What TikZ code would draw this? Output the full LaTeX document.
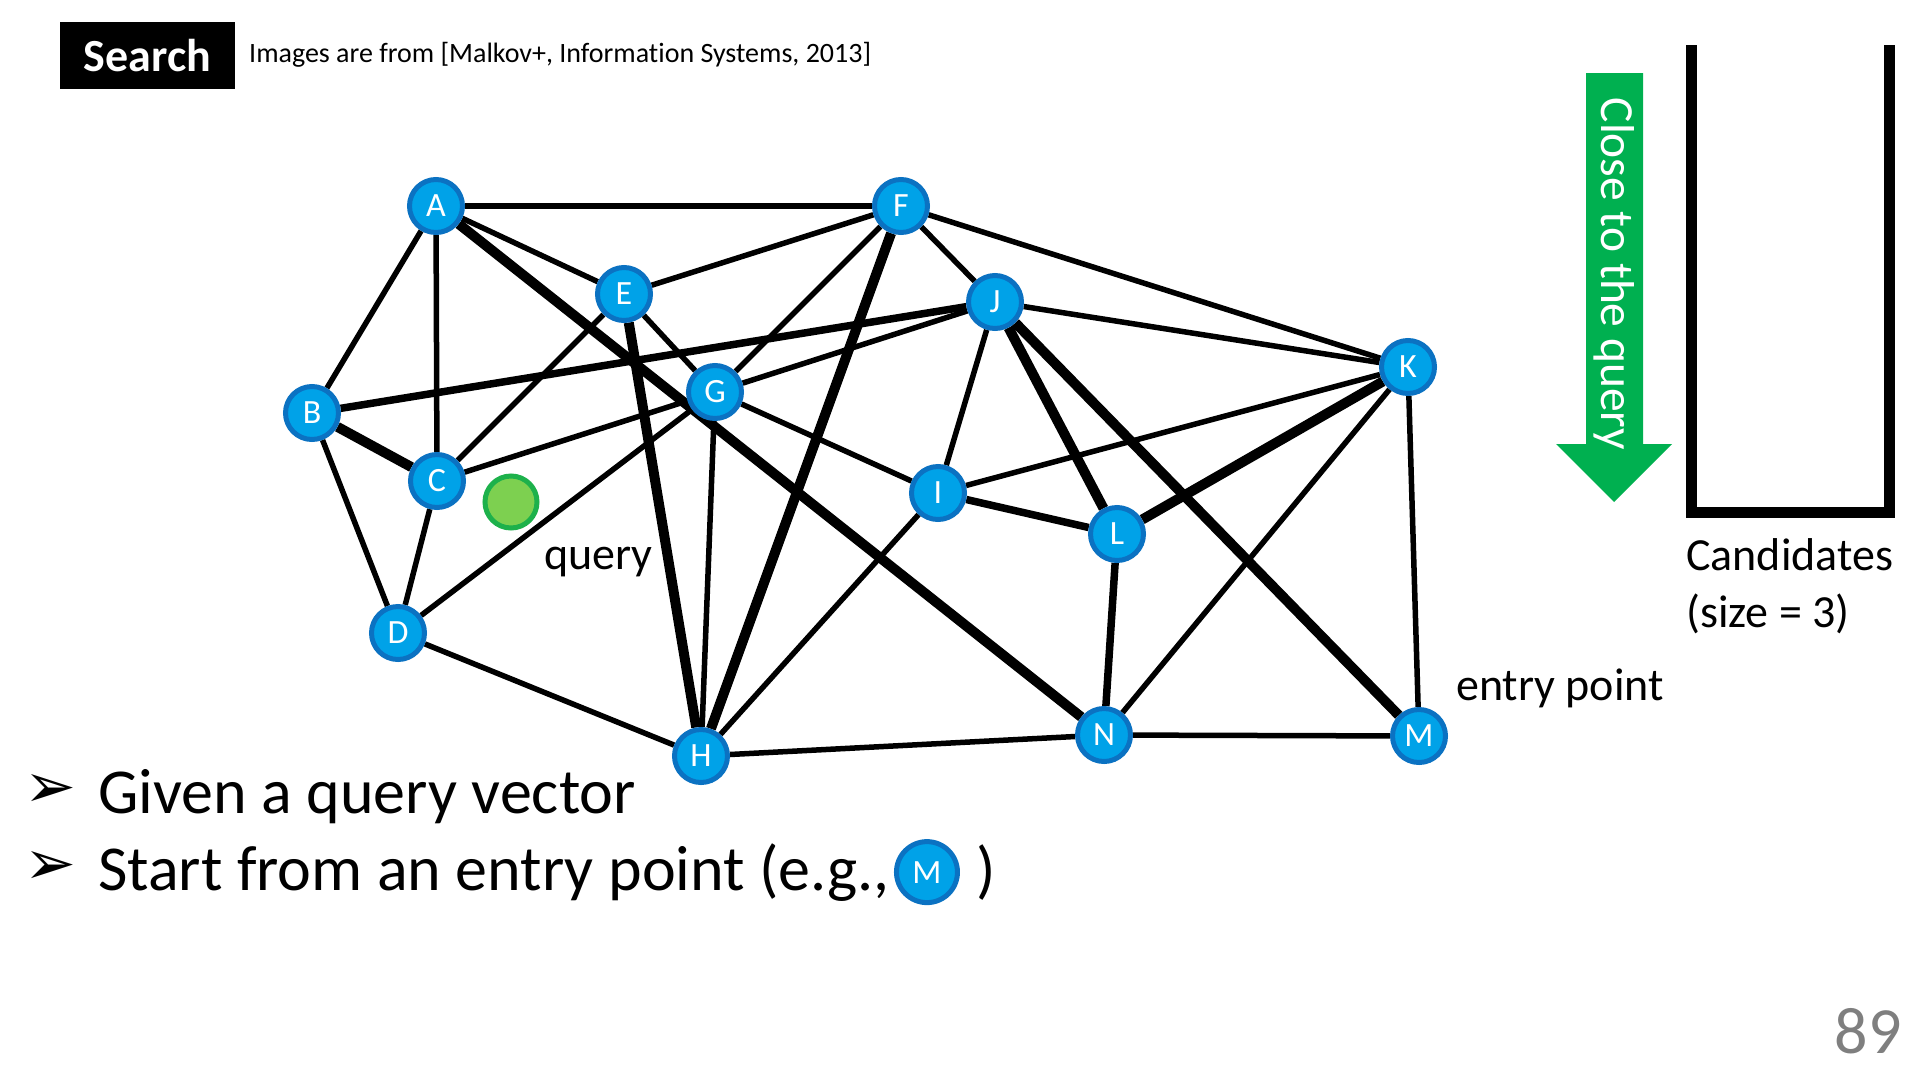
\documentclass[tikz,border=0pt]{standalone}
\usepackage{fontspec}
\setmainfont{Carlito}[Ligatures=NoCommon]
\newfontfamily\symfont{DejaVu Sans}
\usetikzlibrary{positioning,backgrounds}
\definecolor{NodeBlue}{HTML}{00A2E8}
\definecolor{RimBlue}{HTML}{0B72C2}
\definecolor{ArrowGreen}{HTML}{00B050}
\definecolor{QueryGreen}{HTML}{7DD050}
\definecolor{QueryRim}{HTML}{1DB14B}
\definecolor{PageGray}{HTML}{7F7F7F}
\tikzset{
  vtx/.style={circle,fill=NodeBlue,draw=RimBlue,line width=5pt,minimum size=53pt,
    inner sep=0pt,text=white,font=\fontsize{34}{34}\selectfont},
  thinedge/.style={line width=5.5pt},
  midedge/.style={line width=7.5pt},
  thickedge/.style={line width=10pt},
  txt/.style={anchor=base west,inner sep=0pt},
}

\begin{document}
\begin{tikzpicture}[x=1pt,y=-1pt]
  \useasboundingbox (0,0) rectangle (1920,1080);
  % graph
  \foreach \n/\x/\y in {A/436/206,B/312/413,C/437/481,D/398/633,E/624/294,F/901/206,
      G/715/392,H/701/756,I/938/493,J/995/302,K/1408/367,L/1117/534,M/1419/736,N/1104/735}
    \node[vtx] (\n) at (\x,\y) {\n};
  \node[circle,fill=QueryGreen,draw=QueryRim,line width=5pt,minimum size=52pt,inner sep=0pt] (qpt) at (511,502) {};
  \begin{scope}[on background layer]
    \fill[white] (0,0) rectangle (1920,1080);
    \foreach \a/\b in {A/F,A/B,A/C,A/E,B/D,C/E,C/G,C/D,D/G,D/H,E/F,E/G,F/G,F/J,F/K,
        G/J,G/I,G/H,H/I,H/N,J/I,J/K,I/K,K/N,K/M,N/M}
      \draw[thinedge] (\a) -- (\b);
    \foreach \a/\b in {B/J,I/L,L/N}
      \draw[midedge] (\a) -- (\b);
    \foreach \a/\b in {A/N,B/C,E/H,F/H,J/L,J/M,L/K}
      \draw[thickedge] (\a) -- (\b);
  \end{scope}
  \node[txt,font=\fontsize{46}{46}\selectfont] (qlabel) at (544,569) {query};
  \node[txt,font=\fontsize{46}{46}\selectfont] (entry) at (1456,700) {entry point};
  % title
  \node[fill=black,text=white,font=\bfseries\fontsize{46}{46}\selectfont,
    minimum width=175pt,minimum height=67pt,inner sep=0pt] (title) at (147.5,55.5) {Search};
  \node[txt,font=\fontsize{28}{28}\selectfont] (source) at (249,62)
    {Images are from [Malkov+, Information Systems, 2013]};
  % candidates
  \fill[ArrowGreen] (1586,73) -- (1643,73) -- (1643,444) -- (1672,444) -- (1614,502)
    -- (1556,444) -- (1586,444) -- cycle;
  \node[rotate=-90,text=white,inner sep=0pt,font=\fontsize{47.5}{47.5}\selectfont] (closetxt) at (1614,274) {Close to the query};
  \draw[line width=11pt] (1691,45) -- (1691,512) -- (1889,512) -- (1889,45);
  \node[txt,font=\fontsize{46}{46}\selectfont] (cand) at (1686,570) {Candidates};
  \node[txt,font=\fontsize{46}{46}\selectfont] (candsize) at (1686,627) {(size = 3)};
  % bullets
  \node[inner sep=0pt,font=\symfont\fontsize{62}{62}\selectfont] (bul1) at (50,791) {➢};
  \node[inner sep=0pt,font=\symfont\fontsize{62}{62}\selectfont] (bul2) at (50,868) {➢};
  \node[txt,font=\fontsize{64}{64}\selectfont] (given) at (98,813) {Given a query vector};
  \node[txt,font=\fontsize{64}{64}\selectfont] (start) at (98,890) {Start from an entry point (e.g.,};
  \node[vtx,minimum size=61pt,right=4pt of start] (entrym) {M};
  \node[inner sep=0pt,font=\fontsize{64}{64}\selectfont,right=16pt of entrym] (close) {)};
  \node[anchor=base east,inner sep=0pt,text=PageGray,font=\fontsize{66}{66}\selectfont] (pagenum) at (1902,1053) {89};
\end{tikzpicture}
\end{document}
